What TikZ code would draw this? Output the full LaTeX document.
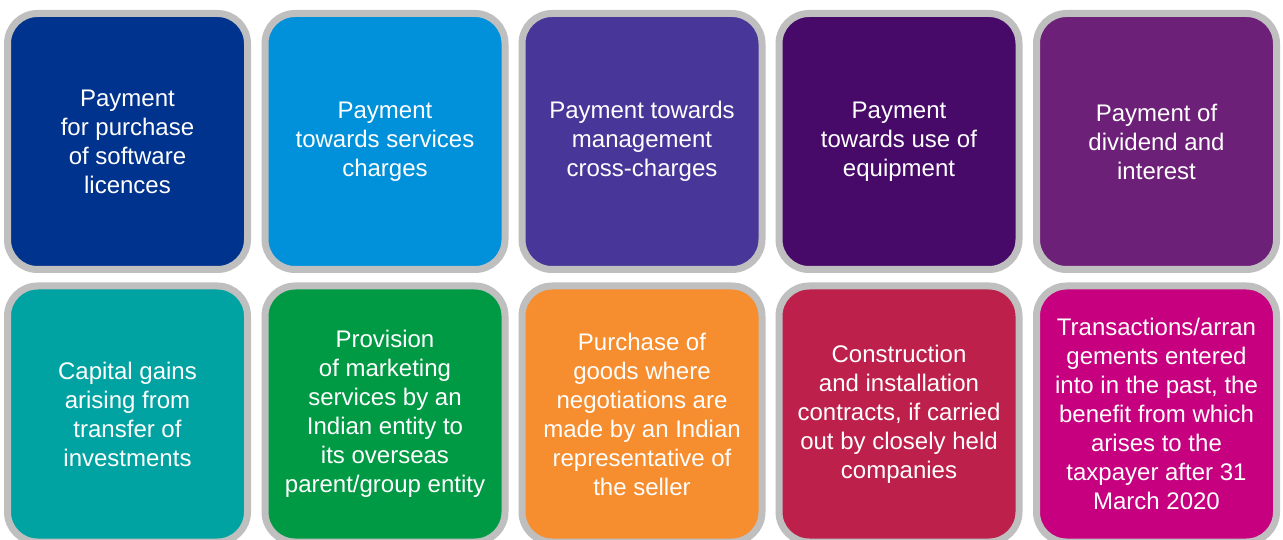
\documentclass[tikz,border=0pt]{standalone}
\usepackage{fontspec}
\setmainfont{Liberation Sans}
\usetikzlibrary{positioning}

\definecolor{tilegrey}{HTML}{BFBFBF}
\definecolor{softblue}{HTML}{00338D}
\definecolor{servblue}{HTML}{0091DA}
\definecolor{mgmtpurple}{HTML}{483698}
\definecolor{equippurple}{HTML}{470A68}
\definecolor{divpurple}{HTML}{6D2077}
\definecolor{capteal}{HTML}{00A3A1}
\definecolor{mktgreen}{HTML}{009A44}
\definecolor{goodsorange}{HTML}{F68D2E}
\definecolor{constred}{HTML}{BC204B}
\definecolor{pastmagenta}{HTML}{C6007E}

\begin{document}
\begin{tikzpicture}%
        [x=1pt, y=-1pt,
        tile/.style={draw=tilegrey, line width=7pt, rounded corners=30pt,
                     minimum width=240pt, minimum height=256pt, inner sep=0pt,
                     text=white, align=center,
                     font=\fontsize{24}{29}\selectfont}]

    \useasboundingbox (0,0) rectangle (1283,540);

    %% First row of tiles
    \node[tile, fill=softblue]    (software)  at (127.5,141.5) {Payment\\for purchase\\of software\\licences};
    \node[tile, fill=servblue]    (services)  at (385,141.5)   {Payment\\towards services\\charges};
    \node[tile, fill=mgmtpurple]  (mgmt)      at (642,141.5)   {Payment towards\\management\\cross-charges};
    \node[tile, fill=equippurple] (equipment) at (899,141.5)   {Payment\\towards use of\\equipment};
    \node[tile, fill=divpurple]   (dividend)  at (1156.5,141.5) {Payment of\\dividend and\\interest};

    %% Second row of tiles
    \node[tile, fill=capteal]     (capital)   at (127.5,414)   {Capital gains\\arising from\\transfer of\\investments};
    \node[tile, fill=mktgreen]    (marketing) at (385,414)     {Provision\\of marketing\\services by an\\Indian entity to\\its overseas\\parent/group entity};
    \node[tile, fill=goodsorange] (goods)     at (642,414)     {Purchase of\\goods where\\negotiations are\\made by an Indian\\representative of\\the seller};
    \node[tile, fill=constred]    (contracts) at (899,414)     {Construction\\and installation\\contracts, if carried\\out by closely held\\companies};
    \node[tile, fill=pastmagenta] (past)      at (1156.5,414)  {Transactions/arran\\gements entered\\into in the past, the\\benefit from which\\arises to the\\taxpayer after 31\\March 2020};
\end{tikzpicture}
\end{document}
